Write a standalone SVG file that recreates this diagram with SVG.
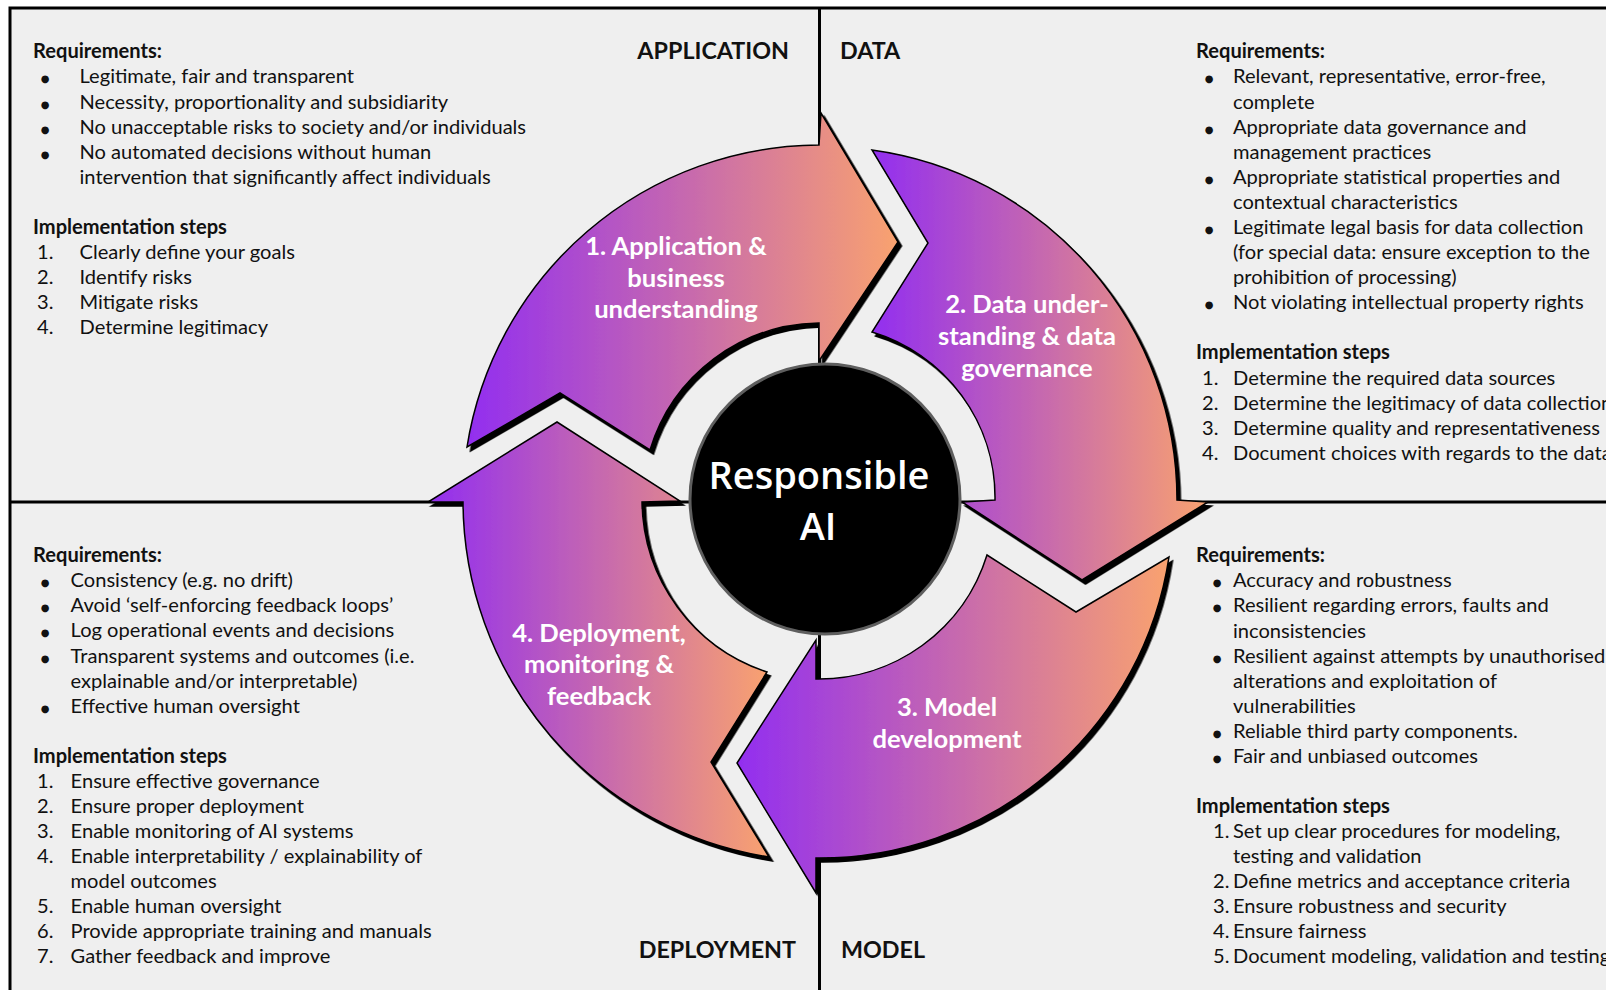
<svg xmlns="http://www.w3.org/2000/svg" width="1606" height="990" viewBox="0 0 1606 990">
<style>
.t{font-family:Lato,"Liberation Sans",sans-serif;font-size:20.1px;fill:#111}
.b{font-weight:bold}
.bu{font-family:"DejaVu Sans",sans-serif;font-size:10px;fill:#111;text-anchor:middle}
.h{font-family:Lato,"Liberation Sans",sans-serif;font-weight:bold;font-size:23.3px;fill:#111}
.lab{font-family:Lato,"Liberation Sans",sans-serif;font-weight:bold;font-size:25.6px;fill:#fff;text-anchor:middle}
.arrow{fill:url(#grad);stroke:#000;stroke-width:1.5;stroke-linejoin:miter;filter:url(#sh)}
.div{stroke:#000;stroke-width:3;fill:none}
</style>
<defs>
<linearGradient id="grad" x1="0" y1="0" x2="1" y2="0">
<stop offset="0" stop-color="#922EF0"/>
<stop offset="1" stop-color="#F9A26F"/>
</linearGradient>
<filter id="sh" x="-10%" y="-10%" width="120%" height="120%">
<feDropShadow dx="3.5" dy="4" stdDeviation="0.4" flood-color="#000" flood-opacity="1"/>
</filter>
</defs>
<rect x="0" y="0" width="1606" height="990" fill="#fff"/>
<rect x="10" y="8" width="1620" height="1000" fill="#efefef" stroke="#000" stroke-width="3"/>
<g id="dividers">
<line class="div" x1="819.5" y1="8" x2="819.5" y2="990"/>
<line class="div" x1="10" y1="502" x2="1606" y2="502"/>
</g>

<g id="arrow-1">
<path class="arrow" d="M467,447 A358,358 0 0,1 819,145 L821,113 L898,242 L819,361 L819,323 A179,179 0 0,0 650,450 L560,393 Z"/>
<text class="lab" x="676" y="255">1. Application &amp;</text>
<text class="lab" x="676" y="287">business</text>
<text class="lab" x="676" y="318">understanding</text>
</g>
<g id="arrow-2">
<path class="arrow" d="M872,150 A353,353 0 0,1 1177,500 L1208,502 L1082,580 L962,502 L995,500 A173,173 0 0,0 872,332 L928,243 Z"/>
<text class="lab" x="1027" y="313">2. Data under-</text>
<text class="lab" x="1027" y="345">standing &amp; data</text>
<text class="lab" x="1027" y="377">governance</text>
</g>
<g id="arrow-3">
<path class="arrow" d="M1169,557 A354,354 0 0,1 816,858 L816,893 L737,763 L816,640 L816,679 A176,176 0 0,0 987,555 L1076,612 Z"/>
<text class="lab" x="947" y="716">3. Model</text>
<text class="lab" x="947" y="748">development</text>
</g>
<g id="arrow-4">
<path class="arrow" d="M769,857 A361,361 0 0,1 463,502 L428,502 L557,422 L680,501 L642,502 A182,182 0 0,0 767,672 L711,762 Z"/>
<text class="lab" x="599" y="642">4. Deployment,</text>
<text class="lab" x="599" y="673">monitoring &amp;</text>
<text class="lab" x="599" y="705">feedback</text>
</g>

<g id="center">
<circle cx="825" cy="499" r="135" fill="#000" stroke="#5e5e5e" stroke-width="3"/>
<text x="819" y="489" font-family="'Open Sans',Lato,sans-serif" font-weight="600" font-size="38" fill="#fff" text-anchor="middle">Responsible</text>
<text x="818" y="540" font-family="'Open Sans',Lato,sans-serif" font-weight="600" font-size="38" fill="#fff" text-anchor="middle">AI</text>
</g>

<g id="application">
<text class="h" x="789" y="59" text-anchor="end">APPLICATION</text>
<text class="t b" x="33" y="58">Requirements:</text>
<text class="bu" x="45" y="82">●</text><text class="t" x="79.5" y="83">Legitimate, fair and transparent</text>
<text class="bu" x="45" y="108">●</text><text class="t" x="79.5" y="109">Necessity, proportionality and subsidiarity</text>
<text class="bu" x="45" y="133">●</text><text class="t" x="79.5" y="134">No unacceptable risks to society and/or individuals</text>
<text class="bu" x="45" y="158">●</text><text class="t" x="79.5" y="159">No automated decisions without human</text>
<text class="t" x="79.5" y="184">intervention that significantly affect individuals</text>
<text class="t b" x="33" y="234">Implementation steps</text>
<text class="t" x="37" y="259">1.</text><text class="t" x="79.5" y="259">Clearly define your goals</text>
<text class="t" x="37" y="284">2.</text><text class="t" x="79.5" y="284">Identify risks</text>
<text class="t" x="37" y="309">3.</text><text class="t" x="79.5" y="309">Mitigate risks</text>
<text class="t" x="37" y="334">4.</text><text class="t" x="79.5" y="334">Determine legitimacy</text>
</g>

<g id="data">
<text class="h" x="840" y="59">DATA</text>
<text class="t b" x="1196" y="58">Requirements:</text>
<text class="bu" x="1209" y="82">●</text><text class="t" x="1233" y="83">Relevant, representative, error-free,</text>
<text class="t" x="1233" y="109">complete</text>
<text class="bu" x="1209" y="133">●</text><text class="t" x="1233" y="134">Appropriate data governance and</text>
<text class="t" x="1233" y="159">management practices</text>
<text class="bu" x="1209" y="183">●</text><text class="t" x="1233" y="184">Appropriate statistical properties and</text>
<text class="t" x="1233" y="209">contextual characteristics</text>
<text class="bu" x="1209" y="233">●</text><text class="t" x="1233" y="234">Legitimate legal basis for data collection</text>
<text class="t" x="1233" y="259">(for special data: ensure exception to the</text>
<text class="t" x="1233" y="284">prohibition of processing)</text>
<text class="bu" x="1209" y="308">●</text><text class="t" x="1233" y="309">Not violating intellectual property rights</text>
<text class="t b" x="1196" y="359">Implementation steps</text>
<text class="t" x="1202" y="385">1.</text><text class="t" x="1233" y="385">Determine the required data sources</text>
<text class="t" x="1202" y="410">2.</text><text class="t" x="1233" y="410">Determine the legitimacy of data collection</text>
<text class="t" x="1202" y="435">3.</text><text class="t" x="1233" y="435">Determine quality and representativeness</text>
<text class="t" x="1202" y="460">4.</text><text class="t" x="1233" y="460">Document choices with regards to the data</text>
</g>

<g id="deployment">
<text class="h" x="796" y="958" text-anchor="end">DEPLOYMENT</text>
<text class="t b" x="33" y="562">Requirements:</text>
<text class="bu" x="45" y="586">●</text><text class="t" x="70.6" y="587">Consistency (e.g. no drift)</text>
<text class="bu" x="45" y="611">●</text><text class="t" x="70.6" y="612">Avoid ‘self-enforcing feedback loops’</text>
<text class="bu" x="45" y="636">●</text><text class="t" x="70.6" y="637">Log operational events and decisions</text>
<text class="bu" x="45" y="662">●</text><text class="t" x="70.6" y="663">Transparent systems and outcomes (i.e.</text>
<text class="t" x="70.6" y="688">explainable and/or interpretable)</text>
<text class="bu" x="45" y="712">●</text><text class="t" x="70.6" y="713">Effective human oversight</text>
<text class="t b" x="33" y="763">Implementation steps</text>
<text class="t" x="37" y="788">1.</text><text class="t" x="70.6" y="788">Ensure effective governance</text>
<text class="t" x="37" y="813">2.</text><text class="t" x="70.6" y="813">Ensure proper deployment</text>
<text class="t" x="37" y="838">3.</text><text class="t" x="70.6" y="838">Enable monitoring of AI systems</text>
<text class="t" x="37" y="863">4.</text><text class="t" x="70.6" y="863">Enable interpretability / explainability of</text>
<text class="t" x="70.6" y="888">model outcomes</text>
<text class="t" x="37" y="913">5.</text><text class="t" x="70.6" y="913">Enable human oversight</text>
<text class="t" x="37" y="938">6.</text><text class="t" x="70.6" y="938">Provide appropriate training and manuals</text>
<text class="t" x="37" y="963">7.</text><text class="t" x="70.6" y="963">Gather feedback and improve</text>
</g>

<g id="model">
<text class="h" x="841" y="958">MODEL</text>
<text class="t b" x="1196" y="562">Requirements:</text>
<text class="bu" x="1217" y="586">●</text><text class="t" x="1233" y="587">Accuracy and robustness</text>
<text class="bu" x="1217" y="611">●</text><text class="t" x="1233" y="612">Resilient regarding errors, faults and</text>
<text class="t" x="1233" y="638">inconsistencies</text>
<text class="bu" x="1217" y="662">●</text><text class="t" x="1233" y="663">Resilient against attempts by unauthorised</text>
<text class="t" x="1233" y="688">alterations and exploitation of</text>
<text class="t" x="1233" y="713">vulnerabilities</text>
<text class="bu" x="1217" y="737">●</text><text class="t" x="1233" y="738">Reliable third party components.</text>
<text class="bu" x="1217" y="762">●</text><text class="t" x="1233" y="763">Fair and unbiased outcomes</text>
<text class="t b" x="1196" y="813">Implementation steps</text>
<text class="t" x="1213" y="838">1.</text><text class="t" x="1233" y="838">Set up clear procedures for modeling,</text>
<text class="t" x="1233" y="863">testing and validation</text>
<text class="t" x="1213" y="888">2.</text><text class="t" x="1233" y="888">Define metrics and acceptance criteria</text>
<text class="t" x="1213" y="913">3.</text><text class="t" x="1233" y="913">Ensure robustness and security</text>
<text class="t" x="1213" y="938">4.</text><text class="t" x="1233" y="938">Ensure fairness</text>
<text class="t" x="1213" y="963">5.</text><text class="t" x="1233" y="963">Document modeling, validation and testing</text>
</g>
</svg>
